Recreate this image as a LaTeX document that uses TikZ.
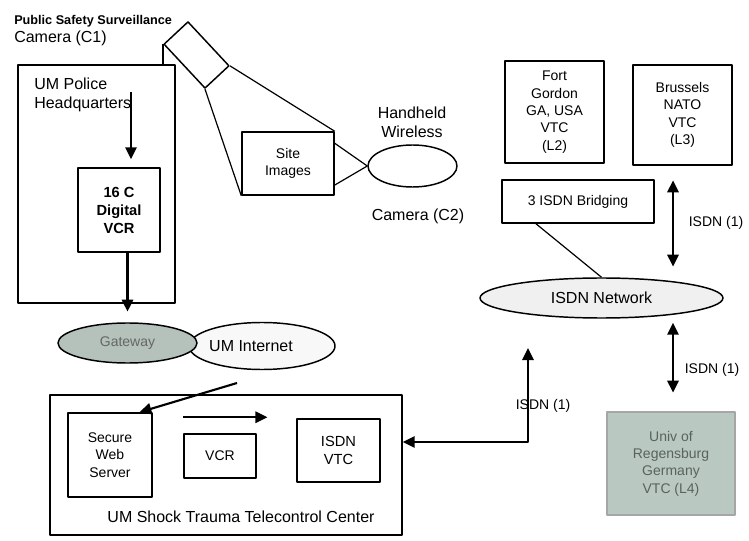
\documentclass[tikz,border=0pt]{standalone}
\usepackage{fontspec}
\setmainfont{Liberation Sans}
\usetikzlibrary{arrows.meta,shapes.geometric}
\definecolor{gatewayfill}{HTML}{B4C2BB}
\definecolor{isdnfill}{HTML}{F0F0F0}
\definecolor{remotefill}{HTML}{B9C8C0}
\definecolor{remotetext}{HTML}{5A625E}

\begin{document}
\begin{tikzpicture}[
  x=0.75pt,
  y=-0.75pt,
  line join=round,
  txt/.style={font=\fontsize{10.5}{13}\selectfont,align=center,inner sep=0pt},
  bigtxt/.style={txt,font=\fontsize{12}{14}\selectfont},
  box/.style={txt,draw,line width=1.1pt},
  cloud/.style={txt,draw,ellipse,line width=1.1pt},
  link/.style={draw,line width=0.9pt},
  arr/.style={draw,line width=1.6pt,-{Triangle[length=9pt,width=8.5pt]}},
  dbl/.style={draw,line width=1.6pt,{Triangle[length=9pt,width=8.5pt]}-{Triangle[length=9pt,width=8.5pt]}}
]
  \useasboundingbox (0,0) rectangle (749,541);

  % Surveillance camera and the police headquarters.
  \node[txt,anchor=base west,font=\bfseries\fontsize{9.5}{10}\selectfont] (camtitle) at (14,25) {Public Safety Surveillance};
  \node[bigtxt,anchor=base west] (camname) at (14,43) {Camera (C1)};
  \node[box,rotate=-47,minimum width=45pt,minimum height=24.5pt] (cam1) at (196.5,55) {};
  \node[box,minimum width=117.75pt,minimum height=178.5pt] (police) at (96.5,184) {};
  \node[bigtxt,anchor=north west,align=left] (policetxt) at (34,78) {UM Police\\Headquarters};
  \node[box,font=\bfseries\fontsize{11}{13.5}\selectfont,minimum width=61.5pt,minimum height=63pt] (vcr16) at (119,210) {16 C\\Digital\\VCR};

  % Handheld camera and the site images.
  \node[box,minimum width=69pt,minimum height=47.25pt] (site) at (288,163.5) {Site\\Images};
  \node[cloud,minimum width=66.75pt,minimum height=31.5pt] (hh) at (412.5,166) {};
  \node[bigtxt] (hhtxt) at (412,122) {Handheld\\Wireless};
  \node[bigtxt] (hhname) at (418,216) {Camera (C2)};

  % Gateway to the campus network.
  \node[cloud,fill=isdnfill!50,minimum width=109.5pt,minimum height=35.25pt] (inet) at (262,346) {};
  \node[cloud,fill=gatewayfill,text=black!60,minimum width=104.25pt,minimum height=30pt] (gateway) at (127.5,343) {Gateway};
  \node[bigtxt] (inettxt) at (251,346) {UM Internet};

  % Telecontrol center.
  \node[box,minimum width=264pt,minimum height=105pt] (trauma) at (226,465) {};
  \node[box,minimum width=63pt,minimum height=63pt] (websrv) at (110,455) {Secure\\Web\\Server};
  \node[box,minimum width=54pt,minimum height=33pt] (vcr) at (220,456) {VCR};
  \node[box,font=\fontsize{11}{13.5}\selectfont,minimum width=62.25pt,minimum height=47.25pt] (vtc) at (338.5,450.5) {ISDN\\VTC};
  \node[bigtxt] (traumatxt) at (241,517) {UM Shock Trauma Telecontrol Center};

  % Remote sites on the ISDN network.
  \node[box,minimum width=74.25pt,minimum height=76.5pt] (fort) at (554.5,112) {Fort\\Gordon\\GA, USA\\VTC\\(L2)};
  \node[box,minimum width=74.25pt,minimum height=75pt] (brussels) at (682.5,115) {Brussels\\NATO\\VTC\\(L3)};
  \node[box,minimum width=114pt,minimum height=32.25pt] (bridge) at (578,201.5) {3 ISDN Bridging};
  \node[cloud,fill=isdnfill,font=\fontsize{12}{14}\selectfont,minimum width=182.25pt,minimum height=30pt] (isdnnet) at (601.5,298) {ISDN Network};
  \node[box,draw=black!35,fill=remotefill,text=remotetext,minimum width=96pt,minimum height=77.25pt] (regens) at (671,463.5) {Univ of\\Regensburg\\Germany\\VTC (L4)};

  % Camera links.
  \draw[link] (cam1.south west) -- (cam1.south west |- police.north);
  \draw[link] (cam1.south east) -- (site.south west);
  \draw[link] (cam1.north east) -- (site.north east);
  \draw[link] ([yshift=-9pt]site.north east) -- (hh.west);
  \draw[link] ([yshift=8pt]site.south east) -- (hh.west);

  % Recording path.
  \coordinate (hqfeed) at (131,92);
  \draw[arr,shorten >=6pt] (hqfeed) -- (hqfeed |- vcr16.north);
  \draw[arr,shorten >=8pt] (vcr16.south -| gateway.north) -- (gateway.north);
  \coordinate (inetfeed) at (237,383);
  \draw[arr] (inetfeed) -- ([xshift=-10pt]websrv.north east);
  \draw[arr] ([yshift=12pt]vcr.north west) -- ([xshift=8pt,yshift=12pt]vcr.north east);

  % ISDN links.
  \draw[link] ([xshift=26pt]bridge.south west) -- (isdnnet.north);
  \coordinate (l3link) at (673,0);
  \draw[dbl,shorten <=11pt,shorten >=8pt] (l3link |- brussels.south) -- (l3link |- isdnnet.north);
  \draw[dbl,shorten <=3pt,shorten >=14pt] (l3link |- isdnnet.south) -- (l3link |- regens.north);
  \coordinate (netlink) at (528,348);
  \coordinate (vtclink) at (528,442);
  \draw[dbl] (netlink) -- (vtclink) -- (vtclink -| trauma.east);

  \node[txt] (isdnl3) at (716,223) {ISDN (1)};
  \node[txt] (isdnl4) at (712,370) {ISDN (1)};
  \node[txt] (isdnvtc) at (543,406) {ISDN (1)};
\end{tikzpicture}
\end{document}
